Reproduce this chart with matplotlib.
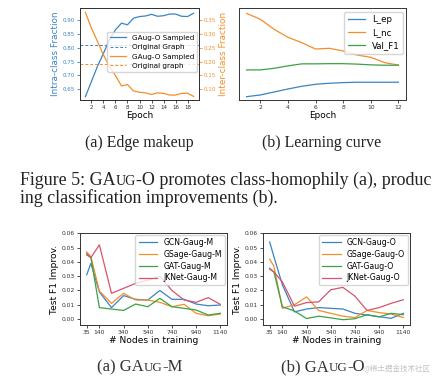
import matplotlib
matplotlib.use('Agg')
import matplotlib.pyplot as plt

# ---- data ----
# (a) edge makeup
epochs_a = [1, 2, 3, 4, 5, 6, 7, 8, 9, 10, 11, 12, 13, 14, 15, 16, 17, 18, 19]
intra_sampled = [0.623, 0.678, 0.733, 0.780, 0.830, 0.866, 0.890, 0.884, 0.908, 0.914,
                 0.916, 0.922, 0.915, 0.917, 0.923, 0.923, 0.915, 0.914, 0.926]
inter_sampled = [0.379, 0.322, 0.274, 0.225, 0.183, 0.150, 0.112, 0.117, 0.094, 0.089,
                 0.087, 0.081, 0.087, 0.085, 0.079, 0.079, 0.085, 0.086, 0.074]
intra_original = 0.81
inter_original = 0.19
intra_ticks = [0.65, 0.70, 0.75, 0.80, 0.85, 0.90]
inter_ticks = [0.10, 0.15, 0.20, 0.25, 0.30, 0.35]
epoch_ticks_a = [2, 4, 6, 8, 10, 12, 14, 16, 18]

# (b) learning curve (no y scale shown, relative values)
epochs_b = [1, 2, 3, 4, 5, 6, 7, 8, 9, 10, 11, 12]
loss_ep = [0.036, 0.055, 0.087, 0.120, 0.149, 0.171, 0.182, 0.189, 0.193, 0.193, 0.193, 0.193]
loss_nc = [0.942, 0.877, 0.768, 0.681, 0.623, 0.554, 0.562, 0.533, 0.489, 0.464, 0.406, 0.380]
val_f1 = [0.327, 0.327, 0.345, 0.371, 0.393, 0.393, 0.395, 0.395, 0.390, 0.382, 0.378, 0.378]
epoch_ticks_b = [2, 4, 6, 8, 10, 12]

# bottom row: test F1 improvement vs. number of training nodes
nodes = [35, 70, 140, 240, 340, 440, 540, 640, 740, 840, 940, 1040, 1140]
node_ticks = [35, 140, 340, 540, 740, 940, 1140]
f1_ticks = [0.00, 0.01, 0.02, 0.03, 0.04, 0.05, 0.06]

gcn_m = [0.031, 0.039, 0.019, 0.008, 0.0164, 0.0138, 0.0133, 0.020, 0.0138, 0.0138, 0.0105, 0.0093, 0.0098]
gsage_m = [0.047, 0.0437, 0.0196, 0.011, 0.018, 0.0133, 0.0133, 0.0117, 0.0086, 0.0103, 0.004, 0.0023, 0.0035]
gat_m = [0.045, 0.043, 0.008, 0.007, 0.006, 0.0105, 0.0086, 0.0145, 0.0086, 0.0075, 0.0063, 0.0028, 0.004]
jknet_m = [0.046, 0.043, 0.052, 0.018, 0.0215, 0.025, 0.0272, 0.030, 0.020, 0.0133, 0.0117, 0.015, 0.0103]

gcn_o = [0.054, 0.0437, 0.024, 0.005, 0.007, 0.008, 0.0075, 0.007, 0.004, 0.0028, 0.0016, 0.0005, 0.004]
gsage_o = [0.042, 0.037, 0.0075, 0.010, 0.0155, 0.006, 0.004, 0.002, 0.001, 0.006, 0.0045, 0.0035, 0.001]
gat_o = [0.0355, 0.033, 0.0086, 0.0056, 0.0003, 0.002, 0.0008, -0.0005, 0.0002, 0.003, 0.0015, 0.004, 0.003]
jknet_o = [0.035, 0.033, 0.026, 0.009, 0.0115, 0.012, 0.0205, 0.0222, 0.016, 0.006, 0.008, 0.011, 0.0135]

BLUE = '#3a84c2'
ORANGE = '#f48d2a'
GREEN = '#3aa246'
RED = '#d6546e'
SERIF = 'Liberation Serif'

W, H = 433, 376
fig = plt.figure(figsize=(W / 100, H / 100), dpi=100)


def box(l, t, r, b):
    # pixel box -> figure fraction
    return [l / W, 1 - b / H, (r - l) / W, (b - t) / H]


def style(ax, size=4.3):
    for s in ax.spines.values():
        s.set_linewidth(0.7)
        s.set_color('#333333')
    ax.tick_params(labelsize=size, length=2, width=0.6, pad=1.5, colors='#333333')


# ---- (a) edge makeup ----
ax1 = fig.add_axes(box(80, 8, 199, 100))
style(ax1, 4)
h1, = ax1.plot(epochs_a, intra_sampled, color=BLUE, lw=0.9)
h2 = ax1.axhline(intra_original, color=BLUE, ls='--', lw=0.7, dashes=(3, 2))
ax1.set_ylim(0.611, 0.945)
ax1.set_yticks(intra_ticks)
ax1.set_xticks(epoch_ticks_a)
ax1.tick_params(axis='y', colors=BLUE)
ax1.set_ylabel('Intra-class Fraction', color=BLUE, fontsize=6.4, labelpad=2)
ax1.set_xlabel('Epoch', fontsize=6.4, labelpad=1)

ax1b = ax1.twinx()
style(ax1b, 4)
h3, = ax1b.plot(epochs_a, inter_sampled, color=ORANGE, lw=0.9)
h4 = ax1b.axhline(inter_original, color=ORANGE, ls='--', lw=0.7, dashes=(3, 2))
ax1b.set_ylim(0.061, 0.395)
ax1b.set_yticks(inter_ticks)
ax1b.tick_params(axis='y', colors=ORANGE)
ax1b.set_ylabel('Inter-class Fraction', color=ORANGE, fontsize=6.4, labelpad=2)
ax1b.legend([h1, h2, h3, h4],
            ['GAug-O Sampled', 'Original Graph', 'GAug-O Sampled', 'Original graph'],
            fontsize=5.2, loc='upper right', bbox_to_anchor=(197 / W, 1 - 32 / H),
            bbox_transform=fig.transFigure, borderaxespad=0, labelspacing=0.45,
            handlelength=2.2, fancybox=True)

# ---- (b) learning curve ----
ax2 = fig.add_axes(box(239, 8, 406, 100))
style(ax2)
ax2.plot(epochs_b, loss_ep, color=BLUE, lw=0.9, label='L_ep')
ax2.plot(epochs_b, loss_nc, color=ORANGE, lw=0.9, label='L_nc')
ax2.plot(epochs_b, val_f1, color=GREEN, lw=0.9, label='Val_F1')
ax2.set_ylim(0, 1)
ax2.set_yticks([])
ax2.set_xticks(epoch_ticks_b)
ax2.set_xlabel('Epoch', fontsize=6.4, labelpad=1)
ax2.legend(fontsize=6.2, loc='upper right', bbox_to_anchor=(403 / W, 1 - 12 / H),
           bbox_transform=fig.transFigure, borderaxespad=0, labelspacing=0.45)

# ---- bottom row ----
series_m = [(gcn_m, BLUE, 'GCN-Gaug-M'), (gsage_m, ORANGE, 'GSage-Gaug-M'),
            (gat_m, GREEN, 'GAT-Gaug-M'), (jknet_m, RED, 'JKNet-Gaug-M')]
series_o = [(gcn_o, BLUE, 'GCN-Gaug-O'), (gsage_o, ORANGE, 'GSage-Gaug-O'),
            (gat_o, GREEN, 'GAT-Gaug-O'), (jknet_o, RED, 'JKNet-Gaug-O')]

for left, right, series in [(80, 227, series_m), (263, 410, series_o)]:
    ax = fig.add_axes(box(left, 233, right, 325))
    style(ax)
    for vals, c, name in series:
        ax.plot(nodes, vals, color=c, lw=0.9, label=name)
    ax.set_ylim(-0.0042, 0.0603)
    ax.set_yticks(f1_ticks)
    ax.set_yticklabels(['%.2f' % v for v in f1_ticks])
    ax.set_xticks(node_ticks)
    ax.set_xlabel('# Nodes in training', fontsize=6.6, labelpad=1)
    ax.set_ylabel('Test F1 Improv.', fontsize=6.6, labelpad=2)
    ax.legend(fontsize=5.6, loc='upper right',
              bbox_to_anchor=((right - 2) / W, 1 - 235 / H),
              bbox_transform=fig.transFigure, borderaxespad=0, labelspacing=0.35,
              handlelength=2.4)

# ---- captions and body text ----
renderer = fig.canvas.get_renderer()


def runs(x, y, parts, size, ha='left', color='#222222'):
    # draw text pieces on one baseline; second item True = small caps
    texts = []
    for s, sc in parts:
        texts.append(fig.text(0, 0, s, fontsize=size * 0.78 if sc else size,
                              family=SERIF, va='baseline', color=color))
    widths = [t.get_window_extent(renderer).width for t in texts]
    x0 = x - sum(widths) / 2 if ha == 'center' else x
    for t, w in zip(texts, widths):
        t.set_position((x0 / W, 1 - y / H))
        x0 += w


runs(139, 147, [('(a) Edge makeup', False)], 11.4, ha='center')
runs(322, 147, [('(b) Learning curve', False)], 11.4, ha='center')
runs(20, 185, [('Figure 5: GA', False), ('UG', True),
               ('-O promotes class-homophily (a), produc', False)], 12.9)
runs(20, 203, [('ing classification improvements (b).', False)], 12.9)
runs(140, 371, [('(a) GA', False), ('UG', True), ('-M', False)], 12, ha='center', color='#333333')
runs(323, 371, [('(b) GA', False), ('UG', True), ('-O', False)], 12, ha='center', color='#333333')

fig.text(431 / W, 1 - 369 / H, '@稀土掘金技术社区', fontsize=5.4, color='#c4c4c4',
         family=['Noto Sans CJK SC', 'DejaVu Sans'], ha='right', va='center')

fig.savefig('out.png', dpi=100)
